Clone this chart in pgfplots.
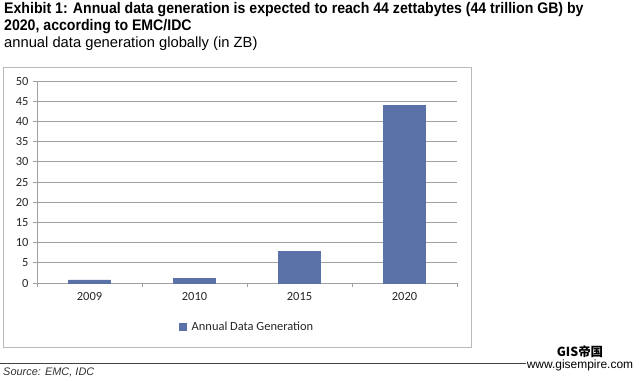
\documentclass[border=0pt]{standalone}
\usepackage{pgfplots}
\pgfplotsset{compat=1.18}
\usepackage{fontspec}
\setmainfont{Liberation Sans}
\newfontfamily\titlefont[FakeStretch=0.92]{Liberation Sans}
\newfontfamily\calfont{Carlito}
\newfontfamily\cjk{Noto Sans CJK SC}
\definecolor{barblue}{RGB}{91,114,168}
\definecolor{gridgray}{RGB}{160,160,160}
\definecolor{framegray}{RGB}{185,185,185}
\begin{document}
\begin{tikzpicture}[x=1bp,y=1bp]
\path[use as bounding box] (0,0) rectangle (640,380);
% title
\node[anchor=north west, inner sep=0pt, align=left, font=\titlefont\bfseries\fontsize{15.4}{17}\selectfont] at (4,378)
 {Exhibit 1: Annual data generation is expected to reach 44 zettabytes (44 trillion GB) by\\2020, according to EMC/IDC};
\node[anchor=north west, inner sep=0pt, font=\fontsize{14.8}{16}\selectfont] at (4,343) {annual data generation globally (in ZB)};
% chart frame
\draw[framegray, line width=0.8bp] (3,33) rectangle (471,313);
\begin{axis}[
  at={(37bp,97bp)}, anchor=south west,
  scale only axis, width=420bp, height=202bp,
  ybar, bar width=42bp, bar shift=0pt,
  xmin=-0.5, xmax=3.5, ymin=0, ymax=50,
  xtick={0,1,2,3}, xticklabels={2009,2010,2015,2020},
  minor xtick={-0.5,0.5,1.5,2.5,3.5},
  ytick={0,5,...,50},
  axis x line*=bottom, axis y line*=left,
  axis line style={draw=gridgray, line width=0.8bp},
  ymajorgrids, major grid style={gridgray, line width=0.8bp},
  tick align=outside,
  major x tick style={draw=none},
  minor x tick style={gridgray, line width=0.8bp},
  major y tick style={gridgray, line width=0.8bp},
  major tick length=4bp, minor tick length=4bp,
  tick label style={font=\calfont\fontsize{12.5}{14}\selectfont, text=black!85},
  xticklabel style={yshift=-2bp},
  yticklabel style={xshift=-1bp},
  /pgf/number format/assume math mode=true,
  legend style={at={(0.5,-0.218)}, anchor=center, draw=none, fill=none,
    font=\calfont\fontsize{12.5}{14}\selectfont, text=black!85},
  legend image code/.code={\fill[barblue, draw=none] (0bp,-4bp) rectangle (8bp,4bp); \path[draw=none, fill=none] (11bp,0bp) circle (0bp);},
]
\addplot[fill=barblue, draw=barblue] coordinates {(0,0.8) (1,1.2) (2,7.9) (3,44)};
\addlegendentry{Annual Data Generation}
\end{axis}
% source rule and text
\draw[black!75, line width=0.8bp] (0,17) -- (560,17);
\node[anchor=west, inner sep=0pt, font=\itshape\fontsize{11}{12}\selectfont, text=black!80] at (3,8) {Source: EMC, IDC};
% watermark
\node[anchor=center, inner sep=0pt, font=\cjk\bfseries\fontsize{12.5}{13}\selectfont] at (580,28) {GIS帝国};
\node[anchor=center, inner sep=1pt, font=\fontsize{12}{13}\selectfont, fill=white] at (580,15) {www.gisempire.com};
\end{tikzpicture}
\end{document}
